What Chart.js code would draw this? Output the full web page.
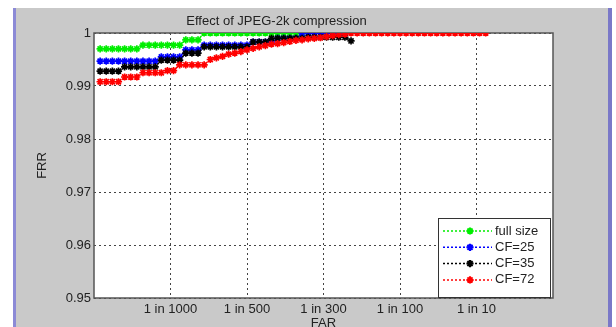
<!DOCTYPE html>
<html>
<head>
<meta charset="utf-8">
<title>Effect of JPEG-2k compression</title>
<script src="https://cdn.jsdelivr.net/npm/chart.js"></script>
<style>
  html, body { margin: 0; padding: 0; background: #fff; }
  #frame { position: absolute; left: 13px; top: 8px; width: 592px; height: 319px;
           background: #c9c9c9; border-left: 3px solid #8c8ad6; border-right: 4px solid #7a78c8; }
  #chart { position: absolute; left: 0; top: 0; }
</style>
</head>
<body>
<div id="frame"></div>
<canvas id="chart" width="616" height="327"></canvas>
<script>
// FAR positions of the sampled points (axis runs 0..6, labelled at 1..5)
const farPos = [
  0.08, 0.16, 0.24, 0.32, 0.40, 0.48, 0.56, 0.64, 0.72, 0.80,
  0.88, 0.96, 1.04, 1.12, 1.20, 1.28, 1.36, 1.44, 1.52, 1.60,
  1.68, 1.76, 1.84, 1.92, 2.00, 2.08, 2.16, 2.24, 2.32, 2.40,
  2.48, 2.56, 2.64, 2.72, 2.80, 2.88, 2.96, 3.04, 3.12, 3.20,
  3.28, 3.36, 3.44, 3.52, 3.60, 3.68, 3.76, 3.84, 3.92, 4.00,
  4.08, 4.16, 4.24, 4.32, 4.40, 4.48, 4.56, 4.64, 4.72, 4.80,
  4.88, 4.96, 5.04, 5.12
];
const farTicks = [1, 2, 3, 4, 5];
const farLabels = ['1 in 1000', '1 in 500', '1 in 300', '1 in 100', '1 in 10'];
const frrTicks = [0.95, 0.96, 0.97, 0.98, 0.99, 1];

const seriesNames = ['full size', 'CF=25', 'CF=35', 'CF=72'];
const seriesColors = ['#00ee00', '#0000ff', '#000000', '#ff0000'];

const fullSize = [
  0.997, 0.997, 0.997, 0.997, 0.997, 0.997, 0.997,
  0.9977, 0.9977, 0.9977, 0.9977, 0.9977, 0.9977, 0.9977,
  0.9987, 0.9987, 0.9987,
  1, 1, 1, 1, 1, 1, 1, 1, 1, 1, 1, 1, 1, 1, 1, 1, 1
];
const cf25 = [
  0.9947, 0.9947, 0.9947, 0.9947, 0.9947, 0.9947, 0.9947, 0.9947, 0.9947, 0.9947,
  0.9955, 0.9955, 0.9955, 0.9955,
  0.9968, 0.9968, 0.9968,
  0.9977, 0.9977, 0.9977, 0.9977, 0.9977, 0.9977, 0.9977, 0.9977,
  0.9983, 0.9983, 0.9983, 0.9983,
  0.999, 0.999, 0.999, 0.999,
  1, 1, 1, 1, 1, 1, 1, 1
];
const cf35 = [
  0.9928, 0.9928, 0.9928, 0.9928,
  0.9936, 0.9936, 0.9936, 0.9936, 0.9936, 0.9936,
  0.9949, 0.9949, 0.9949, 0.9949,
  0.9962, 0.9962, 0.9962,
  0.9974, 0.9974, 0.9974, 0.9974, 0.9974, 0.9974, 0.9974, 0.9974,
  0.9983, 0.9983, 0.9983,
  0.999, 0.999, 0.999, 0.999, 0.999, 0.999,
  0.9992, 0.9992, 0.9992, 0.9992, 0.9992, 0.9992, 0.9992,
  0.9985
];
const cf72 = [
  0.9908, 0.9908, 0.9908, 0.9908,
  0.9917, 0.9917, 0.9917,
  0.9925, 0.9925, 0.9925, 0.9925,
  0.9929, 0.9929,
  0.994, 0.994, 0.994, 0.994, 0.994,
  0.995, 0.9953, 0.9956, 0.996, 0.9962, 0.9965, 0.9968, 0.9971, 0.9974, 0.9976,
  0.9979, 0.998, 0.9982, 0.9984, 0.9986, 0.9987, 0.9989, 0.999, 0.9991, 0.9993,
  0.9995, 0.9997, 0.9998,
  1, 1, 1, 1, 1, 1, 1, 1, 1, 1, 1, 1, 1, 1, 1, 1, 1, 1, 1, 1, 1, 1, 1
];
const seriesValues = [fullSize, cf25, cf35, cf72];

const FONT = '"Liberation Sans", Arial, sans-serif';

function makeSet(i) {
  return {
    label: seriesNames[i],
    data: seriesValues[i].map((v, k) => ({ x: farPos[k], y: v })),
    borderColor: seriesColors[i],
    backgroundColor: seriesColors[i],
    borderWidth: 1.5,
    borderDash: [2, 2],
    pointStyle: 'star',
    pointRadius: 3.6,
    pointBorderWidth: 1.7,
    pointBorderColor: seriesColors[i],
    order: seriesNames.length - 1 - i // later series on top, like MATLAB
  };
}

// white axes background + frame
const axesBox = {
  id: 'axesBox',
  beforeDraw(chart) {
    const a = chart.chartArea, ctx = chart.ctx;
    ctx.save();
    ctx.fillStyle = '#fff';
    ctx.fillRect(a.left, a.top, a.right - a.left, a.bottom - a.top);
    ctx.restore();
  },
  beforeDatasetsDraw(chart) {
    const a = chart.chartArea, ctx = chart.ctx;
    ctx.save();
    ctx.strokeStyle = '#555';
    ctx.lineWidth = 1.5;
    ctx.strokeRect(a.left, a.top, a.right - a.left, a.bottom - a.top);
    ctx.restore();
  }
};

// MATLAB style legend inside the lower right corner
const insetLegend = {
  id: 'insetLegend',
  afterDatasetsDraw(chart) {
    const a = chart.chartArea, ctx = chart.ctx;
    const x0 = a.right - 115, y0 = a.bottom - 80;
    ctx.save();
    ctx.fillStyle = '#fff';
    ctx.fillRect(x0, y0, 112, 79);
    ctx.strokeStyle = '#333';
    ctx.lineWidth = 1;
    ctx.strokeRect(x0 + 0.5, y0 + 0.5, 112, 79);
    chart.data.datasets.forEach((ds, i) => {
      const y = y0 + 13 + i * 16.3;
      ctx.strokeStyle = ds.borderColor;
      ctx.fillStyle = ds.borderColor;
      ctx.lineWidth = 1.5;
      ctx.setLineDash([2, 2]);
      ctx.beginPath();
      ctx.moveTo(x0 + 5, y);
      ctx.lineTo(x0 + 54, y);
      ctx.stroke();
      ctx.setLineDash([]);
      ctx.lineWidth = 2;
      Chart.helpers.drawPoint(ctx, { pointStyle: ds.pointStyle, radius: 3.6, borderWidth: 2, rotation: 0 }, x0 + 32, y);
      ctx.fillStyle = '#222';
      ctx.font = '13px ' + FONT;
      ctx.textBaseline = 'middle';
      ctx.fillText(ds.label, x0 + 57, y);
    });
    ctx.restore();
  }
};

new Chart(document.getElementById('chart'), {
  type: 'line',
  data: { datasets: seriesNames.map((n, i) => makeSet(i)) },
  options: {
    responsive: false,
    animation: false,
    devicePixelRatio: 1,
    layout: { padding: { top: 14, right: 63, bottom: 0, left: 0 } },
    plugins: {
      legend: { display: false },
      tooltip: { enabled: false },
      title: {
        display: true,
        text: 'Effect of JPEG-2k compression',
        color: '#222',
        font: { family: FONT, size: 13, weight: 'normal' },
        padding: { top: 0, bottom: 3.4 }
      }
    },
    scales: {
      x: {
        type: 'linear',
        min: 0,
        max: 6,
        afterBuildTicks: s => { s.ticks = farTicks.map(v => ({ value: v })); },
        afterFit: s => { s.height = 29; },
        ticks: {
          callback: v => farLabels[farTicks.indexOf(v)],
          autoSkip: false,
          maxRotation: 0,
          padding: 4,
          color: '#222',
          font: { family: FONT, size: 13 }
        },
        grid: { color: '#444', lineWidth: 1, drawTicks: false },
        border: { display: false, dash: [2, 3] },
        title: {
          display: true,
          text: 'FAR',
          color: '#222',
          font: { family: FONT, size: 13 },
          padding: { top: 0, bottom: -4 }
        }
      },
      y: {
        min: 0.95,
        max: 1,
        afterBuildTicks: s => { s.ticks = frrTicks.map(v => ({ value: v })); },
        afterFit: s => { s.width = 94; },
        ticks: {
          callback: v => (v === 1 ? '1' : v.toFixed(2)),
          padding: 3,
          color: '#222',
          font: { family: FONT, size: 13 }
        },
        grid: { color: '#444', lineWidth: 1, drawTicks: false },
        border: { display: false, dash: [2, 3] },
        title: {
          display: true,
          text: 'FRR',
          color: '#222',
          font: { family: FONT, size: 13 },
          padding: { top: 35, bottom: 0 }
        }
      }
    }
  },
  plugins: [axesBox, insetLegend]
});
</script>
</body>
</html>
